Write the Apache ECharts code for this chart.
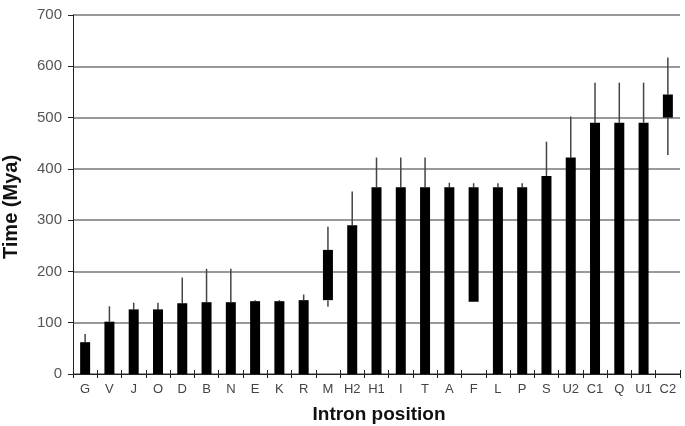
<!DOCTYPE html>
<html>
<head>
<meta charset="utf-8">
<script src="https://cdn.jsdelivr.net/npm/echarts@6/dist/echarts.min.js"></script>
<style>html,body{margin:0;padding:0;background:#fff;}#c{width:685px;height:426px;}</style>
</head>
<body>
<div id="c"></div>
<script>
var categories = ['G','V','J','O','D','B','N','E','K','R','M','H2','H1','I','T','A','F','L','P','S','U2','C1','Q','U1','C2'];
var barLow  = [0,0,0,0,0,0,0,0,0,0,144,0,0,0,0,0,141,0,0,0,0,0,0,0,500];
var barHigh = [62,102,126,126,138,140,140,142,142,144,242,290,364,364,364,364,364,364,364,386,422,490,490,490,545];
var errHigh = [78,132,139,139,188,205,205,144,144,155,287,356,422,422,422,373,372,372,372,453,502,568,568,568,617];
var errLow  = [null,null,null,null,null,null,null,null,null,null,131,null,null,null,null,null,null,null,null,null,null,null,null,null,427];
var yTicks = [0,100,200,300,400,500,600,700];
var xTitle = 'Intron position';
var yTitle = 'Time (Mya)';

var fontFam = '"Liberation Sans", Arial, sans-serif';
var chart = echarts.init(document.getElementById('c'));
var baseData = barLow;
var rangeData = barHigh.map(function(h, i){ return h - barLow[i]; });
var whiskerData = categories.map(function(c, i){ return [i, errHigh[i], errLow[i], barHigh[i], barLow[i]]; });

chart.setOption({
  animation: false,
  grid: {left: 73, right: 5, top: 15, bottom: 52, containLabel: false},
  graphic: [{
    type: 'text', x: 11, y: 207, rotation: Math.PI / 2,
    style: {text: yTitle, font: 'bold 20px ' + fontFam, fill: '#111', align: 'center', verticalAlign: 'middle'}
  }, {
    type: 'text', x: 379, y: 415,
    style: {text: xTitle, font: 'bold 19px ' + fontFam, fill: '#111', align: 'center', verticalAlign: 'middle'}
  }],
  xAxis: [{
    type: 'category', data: categories, position: 'bottom',
    axisLine: {lineStyle: {color: '#222', width: 1}},
    axisTick: {show: true, inside: false, length: 4, lineStyle: {color: '#222'}},
    axisLabel: {fontFamily: fontFam, fontSize: 13, color: '#444', margin: 9, interval: 0}
  }, {
    type: 'category', data: categories, position: 'bottom', gridIndex: 0,
    axisLine: {show: false},
    axisTick: {show: true, inside: true, length: 4, lineStyle: {color: '#222'}},
    axisLabel: {show: false}
  }],
  yAxis: {
    type: 'value', min: 0, max: 700, interval: 100,
    axisLine: {show: true, lineStyle: {color: '#222', width: 1}},
    axisTick: {show: true, length: 5, lineStyle: {color: '#222'}},
    axisLabel: {fontFamily: fontFam, fontSize: 15, color: '#555', margin: 11,
      formatter: function(v){ return yTicks.indexOf(v) >= 0 ? String(v) : ''; }},
    splitLine: {show: true, lineStyle: {color: '#777', width: 1.5}}
  },
  series: [{
    type: 'bar', stack: 'r', data: baseData, barWidth: 10,
    itemStyle: {color: 'rgba(0,0,0,0)'}, silent: true
  }, {
    type: 'bar', stack: 'r', data: rangeData, barWidth: 10,
    itemStyle: {color: '#000'}
  }, {
    type: 'custom', data: whiskerData, z: 1,
    renderItem: function(params, api){
      var i = api.value(0);
      var children = [];
      var top = api.coord([i, api.value(1)]);
      var bh = api.coord([i, api.value(3)]);
      children.push({type: 'line', shape: {x1: top[0], y1: top[1], x2: bh[0], y2: bh[1]},
        style: {stroke: '#444', lineWidth: 1.5}});
      var lo = api.value(2);
      if (lo !== null && lo !== undefined && !isNaN(lo)) {
        var lp = api.coord([i, lo]);
        var bl = api.coord([i, api.value(4)]);
        children.push({type: 'line', shape: {x1: lp[0], y1: lp[1], x2: bl[0], y2: bl[1]},
          style: {stroke: '#444', lineWidth: 1.5}});
      }
      return {type: 'group', children: children};
    }
  }]
});
</script>
</body>
</html>
